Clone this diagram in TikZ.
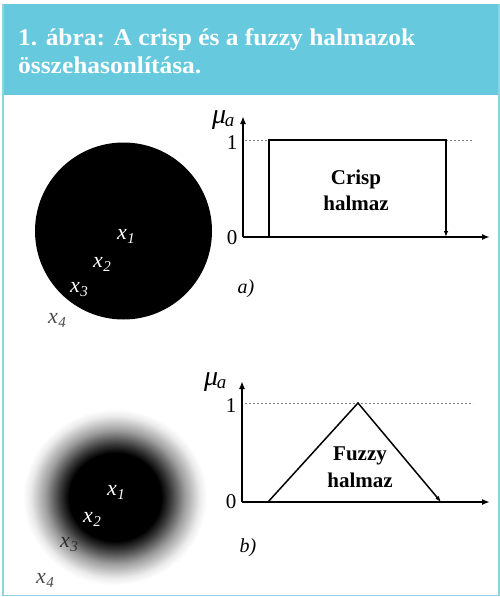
\documentclass[tikz,border=0pt]{standalone}
\usepackage{fontspec}
\setmainfont{Liberation Serif}
\newfontfamily\titlefont[FakeStretch=1.06]{Liberation Serif}
\usetikzlibrary{arrows.meta}
\definecolor{headteal}{HTML}{66C9DD}
\definecolor{framecol}{HTML}{8DD4E2}
\definecolor{labgray}{HTML}{4A4A4A}
\definecolor{darkgray}{HTML}{2E2E2E}
\pgfdeclareradialshading{fuzzyshade}{\pgfpoint{0bp}{0bp}}{color(0bp)=(black); color(12.5bp)=(black); color(15bp)=(black!78!white); color(19bp)=(black!38!white); color(23bp)=(black!8!white); color(25bp)=(white); color(50bp)=(white)}
\tikzset{
  title/.style={anchor=base west, inner sep=0pt, text=white, font=\titlefont\bfseries\fontsize{24}{28}\selectfont},
  axisline/.style={line width=2pt, -{Latex[length=8pt,width=6pt]}},
  memb/.style={line width=1.5pt},
  levelline/.style={gray, dashed, dash pattern=on 2pt off 2pt, line width=0.7pt},
  tick/.style={anchor=base, inner sep=0pt, font=\fontsize{21}{21}\selectfont},
  setname/.style={anchor=base, inner sep=0pt, font=\bfseries\fontsize{21}{21}\selectfont},
  mulab/.style={anchor=base west, inner sep=0pt, font=\itshape\fontsize{28}{28}\selectfont},
  caplab/.style={anchor=base, inner sep=0pt, font=\itshape\fontsize{20}{20}\selectfont},
  elem/.style={anchor=base west, inner sep=0pt, font=\itshape\fontsize{22}{22}\selectfont},
}
\newcommand{\elemname}[1]{x\kern0.5pt\raisebox{-4pt}{\fontsize{15}{15}\selectfont #1}}
\newcommand{\muname}{μ\kern-1.5pt\raisebox{-3pt}{\fontsize{19}{19}\selectfont a}}
\begin{document}
\begin{tikzpicture}[x=1pt,y=-1pt]
\useasboundingbox (0,0) rectangle (500,597);
\fill[white] (0,0) rectangle (500,597);
% header and frame
\fill[headteal] (2,4) rectangle (499.5,95);
\draw[framecol, line width=1.6pt] (3,4) -- (3,595.5) -- (498.8,595.5) -- (498.8,4);
\node[title] (t1) at (18,45) {1. ábra: A crisp és a fuzzy halmazok};
\node[title] (t2) at (18,73) {összehasonlítása.};

% ---------- a) crisp ----------
\fill[black] (123.5,231) circle[radius=88.5pt];
\node[elem, text=white] (a1) at (117,239) {\elemname{1}};
\node[elem, text=white] (a2) at (93,267) {\elemname{2}};
\node[elem, text=white] (a3) at (70,292) {\elemname{3}};
\node[elem, text=labgray] (a4) at (48,323) {\elemname{4}};

\coordinate (oa) at (243,237);
\coordinate (ya) at (243,116);
\coordinate (xa) at (490,237);
\coordinate (pa1) at (269,237);
\coordinate (pa2) at (269,140);
\coordinate (pa3) at (446,140);
\coordinate (pa4) at (446,237);
\coordinate (da1) at (245,140);
\coordinate (da2) at (472,140);
\draw[levelline] (da1) -- (pa2);
\draw[levelline] (pa3) -- (da2);
\draw[axisline] (oa) -- (ya);
\draw[axisline] (oa) -- (xa);
\draw[memb, -{Latex[length=6pt,width=4.5pt]}] (pa1) -- (pa2) -- (pa3) -- (pa4);
\node[mulab] (mua) at (212,123) {\muname};
\node[tick] (onea) at (232,149) {1};
\node[tick] (zeroa) at (232,244) {0};
\node[setname] (crisp) at (356,184) {Crisp};
\node[setname] (halma) at (356,210) {halmaz};
\node[caplab] (capa) at (246,293) {a)};

% ---------- b) fuzzy ----------
\shade[shading=fuzzyshade] (115,497) ellipse[x radius=92pt, y radius=88pt];
\node[elem, text=white] (b1) at (107,495) {\elemname{1}};
\node[elem, text=white] (b2) at (83,522) {\elemname{2}};
\node[elem, text=darkgray] (b3) at (60,547) {\elemname{3}};
\node[elem, text=labgray] (b4) at (36,583) {\elemname{4}};

\coordinate (ob) at (242,502);
\coordinate (yb) at (242,381);
\coordinate (xb) at (490,502);
\coordinate (pb1) at (268,502);
\coordinate (pb2) at (358,403);
\coordinate (pb3) at (441,502);
\coordinate (db1) at (245,403);
\coordinate (db2) at (473,403);
\draw[levelline] (db1) -- (db2);
\draw[axisline] (ob) -- (yb);
\draw[axisline] (ob) -- (xb);
\draw[memb, -{Latex[length=6pt,width=4.5pt]}] (pb1) -- (pb2) -- (pb3);
\node[mulab] (mub) at (204,385) {\muname};
\node[tick] (oneb) at (231,412) {1};
\node[tick] (zerob) at (231,508) {0};
\node[setname] (fuzzy) at (360,460) {Fuzzy};
\node[setname] (halmb) at (360,487) {halmaz};
\node[caplab] (capb) at (248,552) {b)};
\end{tikzpicture}
\end{document}
